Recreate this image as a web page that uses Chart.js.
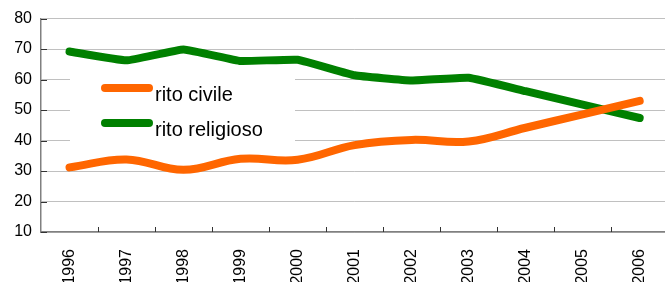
<!DOCTYPE html>
<html>
<head>
<meta charset="utf-8">
<script src="https://cdn.jsdelivr.net/npm/chart.js@4"></script>
<style>
  html, body { margin: 0; padding: 0; background: #fff; overflow: hidden; }
</style>
</head>
<body>
<canvas id="lineChart" width="676" height="282"></canvas>
<script>
const years = ['1996', '1997', '1998', '1999', '2000', '2001', '2002', '2003', '2004', '2005', '2006'];
const ritoCivile = [31.2, 33.8, 30.4, 34.0, 33.7, 38.5, 40.2, 39.7, 44.2, 48.6, 53.0];
const ritoReligioso = [69.2, 66.3, 69.9, 66.1, 66.5, 61.4, 59.7, 60.6, 56.2, 51.8, 47.4];
const yTicks = [10, 20, 30, 40, 50, 60, 70, 80];

const FONT = 'Liberation Sans, Arial, sans-serif';

// legend drawn inside the plot, on a white box over the grid
const innerLegend = {
  id: 'innerLegend',
  beforeDatasetsDraw(chart) {
    const ctx = chart.ctx;
    ctx.save();
    ctx.fillStyle = '#fff';
    ctx.fillRect(70, 60, 225, 86);
    chart.data.datasets.forEach((ds, i) => {
      const y = 88 + i * 35;
      ctx.strokeStyle = ds.borderColor;
      ctx.lineWidth = 8;
      ctx.lineCap = 'round';
      ctx.beginPath();
      ctx.moveTo(105, y);
      ctx.lineTo(149, y);
      ctx.stroke();
      ctx.fillStyle = '#000';
      ctx.font = '20px ' + FONT;
      ctx.textBaseline = 'alphabetic';
      ctx.textAlign = 'left';
      ctx.fillText(ds.label, 155, y + 13);
    });
    ctx.restore();
  }
};

// small tick marks pointing into the plot
const innerTicks = {
  id: 'innerTicks',
  afterDraw(chart) {
    const ctx = chart.ctx;
    const x = chart.scales.x, y = chart.scales.y;
    const area = chart.chartArea;
    ctx.save();
    ctx.strokeStyle = '#333';
    ctx.lineWidth = 1;
    const w = x.getPixelForValue(1) - x.getPixelForValue(0);
    for (let i = 0; i < years.length; i++) {
      const px = Math.round(x.getPixelForValue(i) + w / 2) + 0.5;
      ctx.beginPath();
      ctx.moveTo(px, area.bottom);
      ctx.lineTo(px, area.bottom - 5);
      ctx.stroke();
    }
    yTicks.forEach(v => {
      const py = Math.round(y.getPixelForValue(v)) + 0.5;
      ctx.beginPath();
      ctx.moveTo(area.left, py);
      ctx.lineTo(area.left + 6, py);
      ctx.stroke();
    });
    ctx.restore();
  }
};

new Chart(document.getElementById("lineChart"), {
  type: 'line',
  data: {
    labels: years,
    datasets: [{
      label: 'rito civile',
      data: ritoCivile,
      borderColor: '#ff6600',
      borderWidth: 8,
      borderCapStyle: 'round',
      borderJoinStyle: 'round',
      tension: 0.4,
      pointRadius: 0,
      fill: false
    }, {
      label: 'rito religioso',
      data: ritoReligioso,
      borderColor: '#008000',
      borderWidth: 8,
      borderCapStyle: 'round',
      borderJoinStyle: 'round',
      tension: 0.1,
      pointRadius: 0,
      fill: false
    }]
  },
  options: {
    responsive: false,
    maintainAspectRatio: false,
    animation: false,
    layout: {
      padding: { top: 14, right: 2, left: 0, bottom: 0 }
    },
    plugins: {
      legend: { display: false },
      tooltip: { enabled: false }
    },
    scales: {
      x: {
        offset: true,
        afterFit: (scale) => { scale.height = 50; },
        grid: { drawOnChartArea: false, drawTicks: false },
        border: { display: true, color: '#808080', width: 1.5 },
        ticks: {
          minRotation: 90,
          maxRotation: 90,
          autoSkip: false,
          padding: 17,
          color: '#000',
          font: { family: FONT, size: 16 }
        }
      },
      y: {
        min: 10,
        max: 80,
        afterFit: (scale) => { scale.width = 41; },
        afterBuildTicks: (scale) => { scale.ticks = yTicks.map(v => ({ value: v })); },
        grid: { color: '#c0c0c0', lineWidth: 1, drawTicks: false },
        border: { display: true, color: '#808080', width: 1.5 },
        ticks: {
          padding: 9,
          color: '#000',
          font: { family: FONT, size: 16 }
        }
      }
    }
  },
  plugins: [innerLegend, innerTicks]
});
</script>
</body>
</html>
